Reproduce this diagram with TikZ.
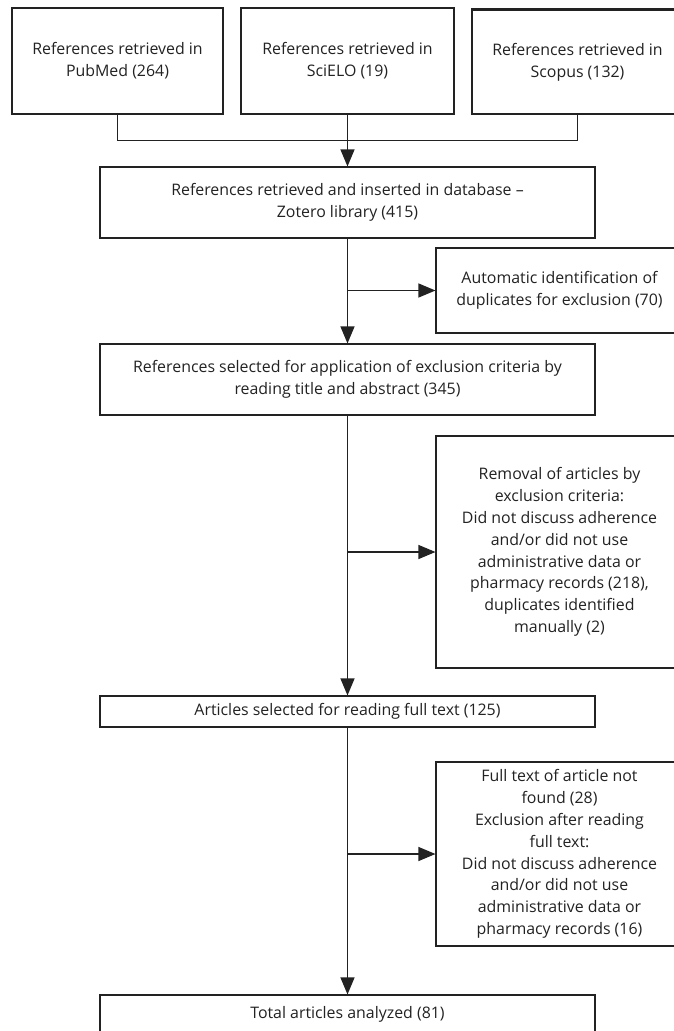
\documentclass[tikz,border=0pt]{standalone}
\usepackage{fontspec}
\setmainfont{Open Sans}
\usetikzlibrary{arrows.meta}
\definecolor{ink}{HTML}{222222}
\begin{document}
\begin{tikzpicture}[x=1pt,y=-1pt,
  box/.style={draw=ink,line width=1.1pt,rectangle,inner sep=0pt,align=center,text=ink,
    font=\fontsize{15.9}{21.8}\selectfont},
  arr/.style={draw=ink,line width=1.1pt,-{Triangle[length=17pt,width=14pt]}},
  ln/.style={draw=ink,line width=1.1pt}]
\useasboundingbox (0,0) rectangle (674,1031);
\clip (0,0) rectangle (674,1031);
% top boxes
\node[box,minimum width=211pt,minimum height=106pt] (b1) at (117.5,61) {References retrieved in\\PubMed (264)};
\node[box,minimum width=213pt,minimum height=106pt] (b2) at (347.5,61) {References retrieved in\\SciELO (19)};
\node[box,minimum width=211pt,minimum height=104pt] (b3) at (577.5,62) {References retrieved in\\Scopus (132)};
\draw[ln,line width=2pt] (b3.north west) -- (b3.north east);
% main column
\node[box,minimum width=495pt,minimum height=71pt] (zot) at (347.5,202.5) {References retrieved and inserted in database --\\Zotero library (415)};
\node[box,minimum width=495pt,minimum height=71pt] (sel) at (347.5,379.5) {References selected for application of exclusion criteria by\\reading title and abstract (345)};
\node[box,minimum width=495pt,minimum height=31pt] (art) at (347.5,711.5) {Articles selected for reading full text (125)};
\node[box,minimum width=495pt,minimum height=38pt] (tot) at (347.5,1014) {Total articles analyzed (81)};
% side boxes
\node[box,minimum width=247pt,minimum height=85pt] (auto) at (559.5,290.5) {Automatic identification of\\duplicates for exclusion (70)};
\node[box,minimum width=247pt,minimum height=232pt] (rem) at (559.5,552) {Removal of articles by\\exclusion criteria:\\Did not discuss adherence\\and/or did not use\\administrative data or\\pharmacy records (218),\\duplicates identified\\manually (2)};
\node[box,minimum width=247pt,minimum height=184pt] (full) at (559.5,854) {Full text of article not\\found (28)\\Exclusion after reading\\full text:\\Did not discuss adherence\\and/or did not use\\administrative data or\\pharmacy records (16)};
% connectors
\draw[ln] (b1.south) -- ++(0,26) -| (b3.south);
\draw[arr] (b2.south) -- (zot.north);
\draw[arr] (zot.south) -- (sel.north);
\draw[arr] (sel.south) -- (art.north);
\draw[arr] (art.south) -- (tot.north);
\draw[arr] (zot.south |- auto.west) -- (auto.west);
\draw[arr] (sel.south |- rem.west) -- (rem.west);
\draw[arr] (art.south |- full.west) -- (full.west);
\end{tikzpicture}
\end{document}
